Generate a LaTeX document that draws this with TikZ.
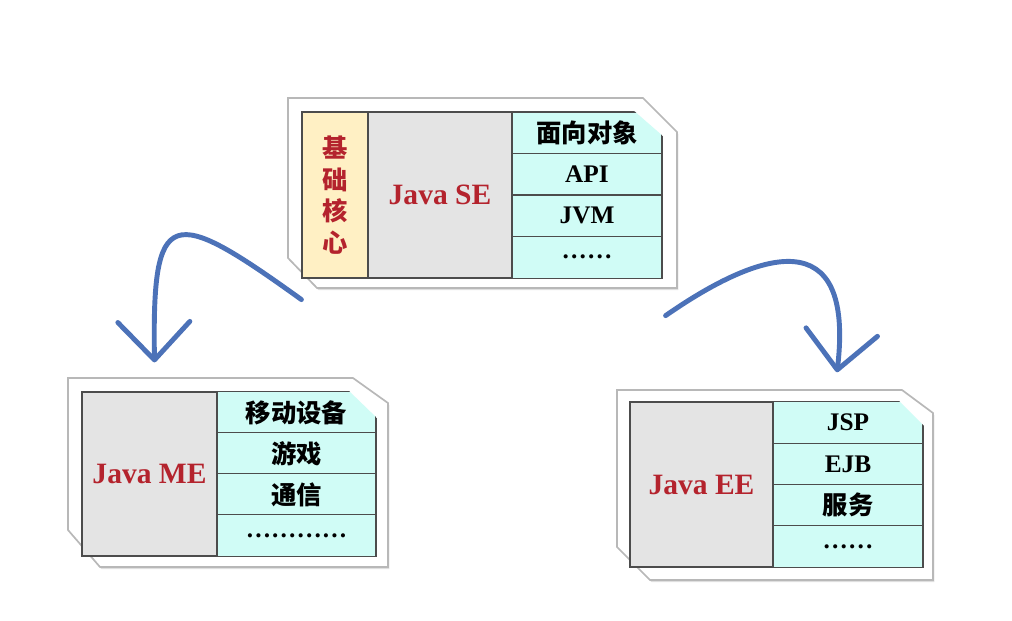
\documentclass[tikz,border=0pt]{standalone}
\usepackage{fontspec}
\setmainfont{Liberation Serif}
\newfontfamily\cjk{Noto Sans CJK SC}
\usetikzlibrary{arrows.meta,shadows}
\definecolor{javared}{RGB}{180,35,45}
\definecolor{coreyellow}{RGB}{255,240,196}
\definecolor{panelgray}{RGB}{228,228,228}
\definecolor{itemcyan}{RGB}{208,252,246}
\definecolor{flowblue}{RGB}{76,114,184}
\begin{document}
\begin{tikzpicture}[
  x=0.025cm, y=-0.025cm,
  card/.style={fill=white, draw=black!28, line width=1.2pt, drop shadow={shadow xshift=1pt, shadow yshift=-1.5pt, opacity=0.25}},
  cell/.style={draw=black!70, line width=0.8pt, inner sep=0pt, minimum height=1.04cm},
  core/.style={cell, fill=coreyellow, text=javared, minimum width=1.65cm, minimum height=4.15cm, align=center, font=\cjk\bfseries\fontsize{18}{22.4}\selectfont},
  edition/.style={cell, fill=panelgray, text=javared, font=\bfseries\fontsize{21}{25}\selectfont},
  item/.style={cell, fill=itemcyan, font=\bfseries\fontsize{18}{22}\selectfont},
  flow/.style={draw=flowblue, line width=3.5pt, line cap=round, -{Straight Barb[length=0.95cm, width=1.8cm, round]}}
]
\useasboundingbox (0,0) rectangle (1012,620);

\draw[card] (288,98) -- (643,98) -- (677,132) -- (677,288) -- (317,288) -- (288,258) -- cycle;
\begin{scope}
\clip (300,110) -- (633,110) -- (664,137) -- (664,280) -- (300,280) -- cycle;
\node[core] (core) at (335,195) {基\\础\\核\\心};
\node[edition, minimum width=3.6cm, minimum height=4.15cm] (se) at (440,195) {Java SE};
\foreach \t [count=\i] in {{\cjk 面向对象},API,JVM,……}
  \node[item, minimum width=3.75cm] (se\i) at (587,{112+41.5*\i-20.75}) {\t};
\end{scope}

\draw[card] (68,378) -- (353,378) -- (388,403) -- (388,567) -- (100,567) -- (68,530) -- cycle;
\begin{scope}
\clip (80,390) -- (348,390) -- (378,419) -- (378,558) -- (80,558) -- cycle;
\node[edition, minimum width=3.375cm, minimum height=4.1cm] (me) at (149.5,474) {Java ME};
\foreach \t [count=\i] in {{\cjk 移动设备},{\cjk 游戏},{\cjk 通信},…………}
  \node[item, minimum width=3.975cm] (me\i) at (296.5,{392+41*\i-20.5}) {\t};
\end{scope}

\draw[card] (617,390) -- (902,390) -- (933,413) -- (933,580) -- (650,580) -- (617,547) -- cycle;
\begin{scope}
\clip (628,400) -- (898,400) -- (925,427) -- (925,569) -- (628,569) -- cycle;
\node[edition, minimum width=3.575cm, minimum height=4.125cm] (ee) at (701.5,484.5) {Java EE};
\foreach \t [count=\i] in {JSP,EJB,{\cjk 服务},……}
  \node[item, minimum width=3.75cm] (ee\i) at (848,{402+41.25*\i-20.625}) {\t};
\end{scope}

\draw[flow] ([shift={(0,21)}]core.south west) .. controls (170,205) and (152,205) .. ([shift={(5,-29)}]me.north);
\draw[flow] ([shift={(3,37)}]se4.south east) .. controls (760,250) and (855,220) .. ([shift={(-11,-29)}]ee1.north);
\end{tikzpicture}
\end{document}
